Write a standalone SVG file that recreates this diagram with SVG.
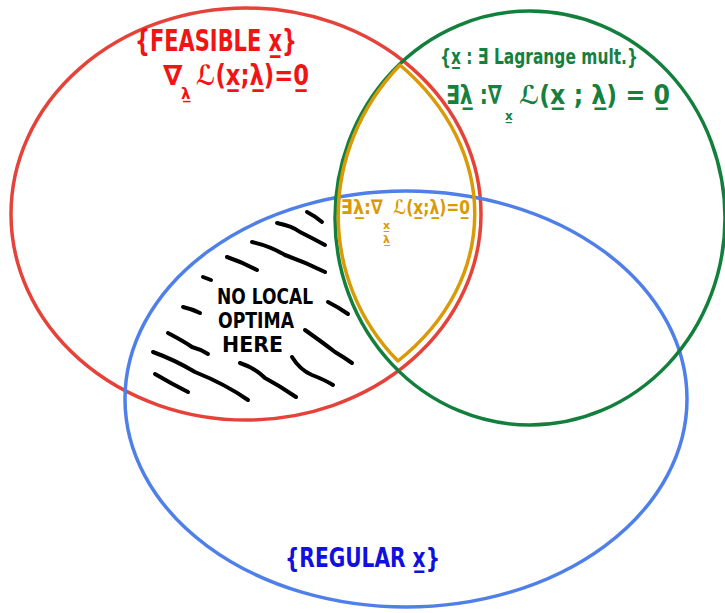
<svg xmlns="http://www.w3.org/2000/svg" width="725" height="613" viewBox="0 0 725 613">
<style>
  .ring { fill: none; stroke-width: 3.5; }
  .lbl { font-family: "DejaVu Sans", "Liberation Sans", sans-serif; font-weight: bold; }
  .hatch { fill: none; stroke: #000; stroke-width: 4; stroke-linecap: round; stroke-linejoin: round; }
</style>
<rect width="725" height="613" fill="#fff"/>
<g id="node-feasible">
  <ellipse class="ring" cx="246" cy="214" rx="235" ry="206" stroke="#e5433a"/>
  <text class="lbl" x="135" y="51" font-size="31" fill="#f01414" textLength="162" lengthAdjust="spacingAndGlyphs">{FEASIBLE x̲}</text>
  <text class="lbl" x="163" y="85" font-size="28" fill="#f01414">∇</text>
  <text class="lbl" x="181" y="99" font-size="15" fill="#f01414">λ̲</text>
  <text class="lbl" x="196" y="85" font-size="28" fill="#f01414" textLength="113" lengthAdjust="spacingAndGlyphs">ℒ(x̲;λ̲)=0̲</text>
</g>
<g id="node-regular">
  <ellipse class="ring" cx="406" cy="399" rx="281" ry="208" stroke="#4f7fe8"/>
  <text class="lbl" x="285" y="567" font-size="27" fill="#1010e0" textLength="155" lengthAdjust="spacingAndGlyphs">{REGULAR x̲}</text>
</g>
<g id="node-lagrange">
  <ellipse class="ring" cx="530" cy="218" rx="195" ry="207" stroke="#12803c"/>
  <text class="lbl" x="440" y="64" font-size="22" fill="#17803e" textLength="198" lengthAdjust="spacingAndGlyphs">{x̲ : ∃ Lagrange mult.}</text>
  <text class="lbl" x="446" y="104" font-size="26" fill="#17803e" textLength="56" lengthAdjust="spacingAndGlyphs">∃λ̲ :∇</text>
  <text class="lbl" x="505" y="120" font-size="12" fill="#17803e">x̲</text>
  <text class="lbl" x="519" y="104" font-size="26" fill="#17803e" textLength="151" lengthAdjust="spacingAndGlyphs">ℒ(x̲ ; λ̲) = 0̲</text>
</g>
<g id="node-intersection">
  <path d="M400,65 C500,150 500,280 398,361 C318,280 318,150 400,65 Z" fill="none" stroke="#d99a06" stroke-width="3.5" stroke-linejoin="round"/>
  <text class="lbl" x="341" y="214" font-size="20" fill="#d99a06" textLength="42" lengthAdjust="spacingAndGlyphs">∃λ̲:∇</text>
  <text class="lbl" x="383" y="229" font-size="11" fill="#d99a06">x̲</text>
  <text class="lbl" x="383" y="243" font-size="11" fill="#d99a06">λ̲</text>
  <text class="lbl" x="393" y="214" font-size="20" fill="#d99a06" textLength="77" lengthAdjust="spacingAndGlyphs">ℒ(x̲;λ̲)=0̲</text>
</g>
<g id="node-no-optima">
  <path class="hatch" d="M307,212 Q315,216 322,222"/>
  <path class="hatch" d="M277,223 Q292,226 300,232 Q312,238 325,245"/>
  <path class="hatch" d="M252,242 Q270,246 285,255 Q305,262 325,272"/>
  <path class="hatch" d="M227,257 Q242,262 257,270"/>
  <path class="hatch" d="M203,277 L211,280"/>
  <path class="hatch" d="M183,307 Q192,309 200,313"/>
  <path class="hatch" d="M328,302 Q338,307 348,314"/>
  <path class="hatch" d="M168,333 Q185,342 192,347 Q200,349 208,354"/>
  <path class="hatch" d="M153,352 Q175,360 195,372 Q225,384 248,400"/>
  <path class="hatch" d="M155,374 Q172,384 188,392"/>
  <path class="hatch" d="M240,363 Q255,368 265,378 Q280,386 296,397"/>
  <path class="hatch" d="M292,357 Q300,370 312,375 Q325,380 333,385"/>
  <path class="hatch" d="M305,330 Q322,342 335,352 Q345,358 352,363"/>
  <text class="lbl" x="217" y="304" font-size="21" fill="#000" textLength="96" lengthAdjust="spacingAndGlyphs">NO LOCAL</text>
  <text class="lbl" x="218" y="328" font-size="21" fill="#000" textLength="76" lengthAdjust="spacingAndGlyphs">OPTIMA</text>
  <text class="lbl" x="222" y="352" font-size="21" fill="#000" textLength="61" lengthAdjust="spacingAndGlyphs">HERE</text>
</g>
<g id="connectors"/>
</svg>
